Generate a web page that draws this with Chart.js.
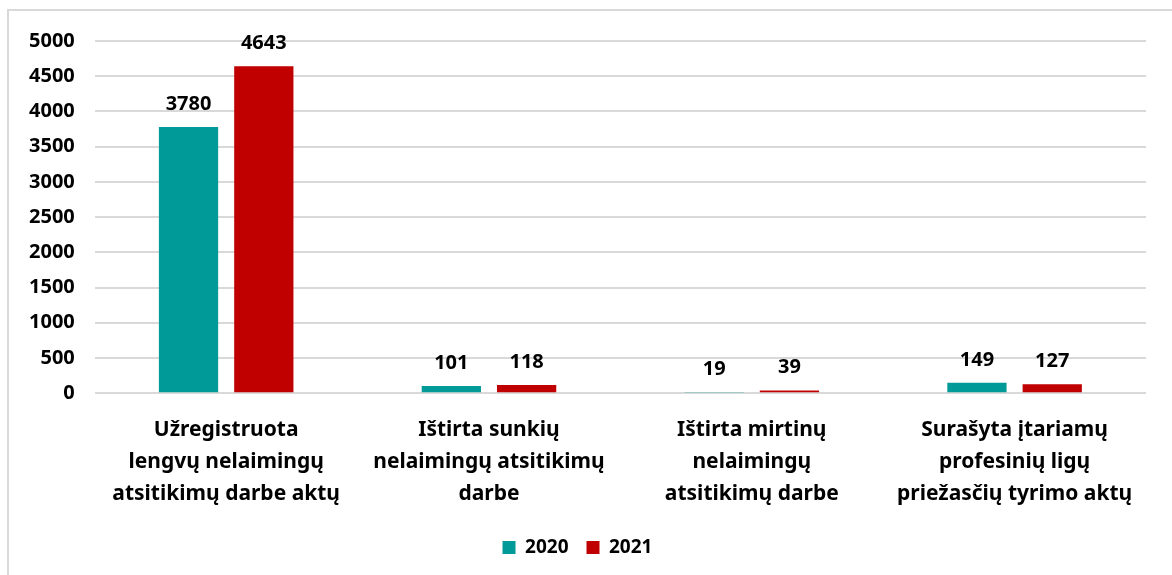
<!DOCTYPE html>
<html>
<head>
<meta charset="utf-8">
<script src="https://cdn.jsdelivr.net/npm/chart.js@4"></script>
<style>
    html, body { margin: 0; padding: 0; background: #fff; overflow: hidden; }
    #box {
        position: absolute; left: 7px; top: 9px;
        width: 1175px; height: 580px;
        border: 2px solid #d9d9d9; box-sizing: border-box;
    }
    #wrap { position: absolute; left: 0; top: 0; width: 1163px; height: 564px; }
</style>
</head>
<body>
<div id="box"><div id="wrap"><canvas id="barChart"></canvas></div></div>
<script>
// kategorijos
const categories = [
    ['Užregistruota', 'lengvų nelaimingų', 'atsitikimų darbe aktų'],
    ['Ištirta sunkių', 'nelaimingų atsitikimų', 'darbe'],
    ['Ištirta mirtinų', 'nelaimingų', 'atsitikimų darbe'],
    ['Surašyta įtariamų', 'profesinių ligų', 'priežasčių tyrimo aktų']
];
const values2020 = [3780, 101, 19, 149];
const values2021 = [4643, 118, 39, 127];
const yTicks = [0, 500, 1000, 1500, 2000, 2500, 3000, 3500, 4000, 4500, 5000];

const fontFamily = '"Noto Sans", "Open Sans", sans-serif';

// reikšmių užrašai virš stulpelių
const valueLabels = {
    id: 'valueLabels',
    afterDatasetsDraw(chart) {
        const ctx = chart.ctx;
        ctx.save();
        ctx.font = 'bold 20px ' + fontFamily;
        ctx.fillStyle = '#000';
        ctx.textAlign = 'center';
        ctx.textBaseline = 'alphabetic';
        chart.data.datasets.forEach((ds, i) => {
            chart.getDatasetMeta(i).data.forEach((bar, j) => {
                ctx.fillText(ds.data[j], bar.x, bar.y - 17);
            });
        });
        ctx.restore();
    }
};

const ctx = document.getElementById('barChart');
new Chart(ctx.getContext('2d'), {
    type: 'bar',
    data: {
        labels: categories,
        datasets: [
            { label: '2020', data: values2020, backgroundColor: '#009a99' },
            { label: '2021', data: values2021, backgroundColor: '#c00000' }
        ]
    },
    options: {
        responsive: true,
        maintainAspectRatio: false,
        animation: false,
        categoryPercentage: 0.573,
        barPercentage: 0.787,
        layout: { padding: { top: 7, right: 26, bottom: 8, left: 0 } },
        plugins: {
            legend: {
                position: 'bottom',
                labels: {
                    boxWidth: 13,
                    boxHeight: 13,
                    padding: 18,
                    color: '#000',
                    font: { family: fontFamily, size: 19, weight: 'bold' }
                }
            },
            tooltip: { enabled: false }
        },
        scales: {
            x: {
                grid: { display: false, drawTicks: false },
                border: { display: false },
                // ašies aukštį sumažinam, kad užrašai būtų arčiau legendos
                afterFit: scale => { scale.height -= 11; },
                ticks: {
                    color: '#000',
                    padding: 21,
                    maxRotation: 0,
                    autoSkip: false,
                    font: { family: fontFamily, size: 21, weight: 'bold', lineHeight: 1.52 }
                }
            },
            y: {
                min: 0,
                max: 5000,
                afterBuildTicks: axis => { axis.ticks = yTicks.map(v => ({ value: v })); },
                grid: { color: '#d9d9d9', lineWidth: 2, drawTicks: false },
                border: { display: false },
                ticks: {
                    color: '#000',
                    padding: 20,
                    callback: v => String(v),
                    font: { family: fontFamily, size: 20, weight: 'bold', lineHeight: 1 }
                }
            }
        }
    },
    plugins: [valueLabels]
});
</script>
</body>
</html>
